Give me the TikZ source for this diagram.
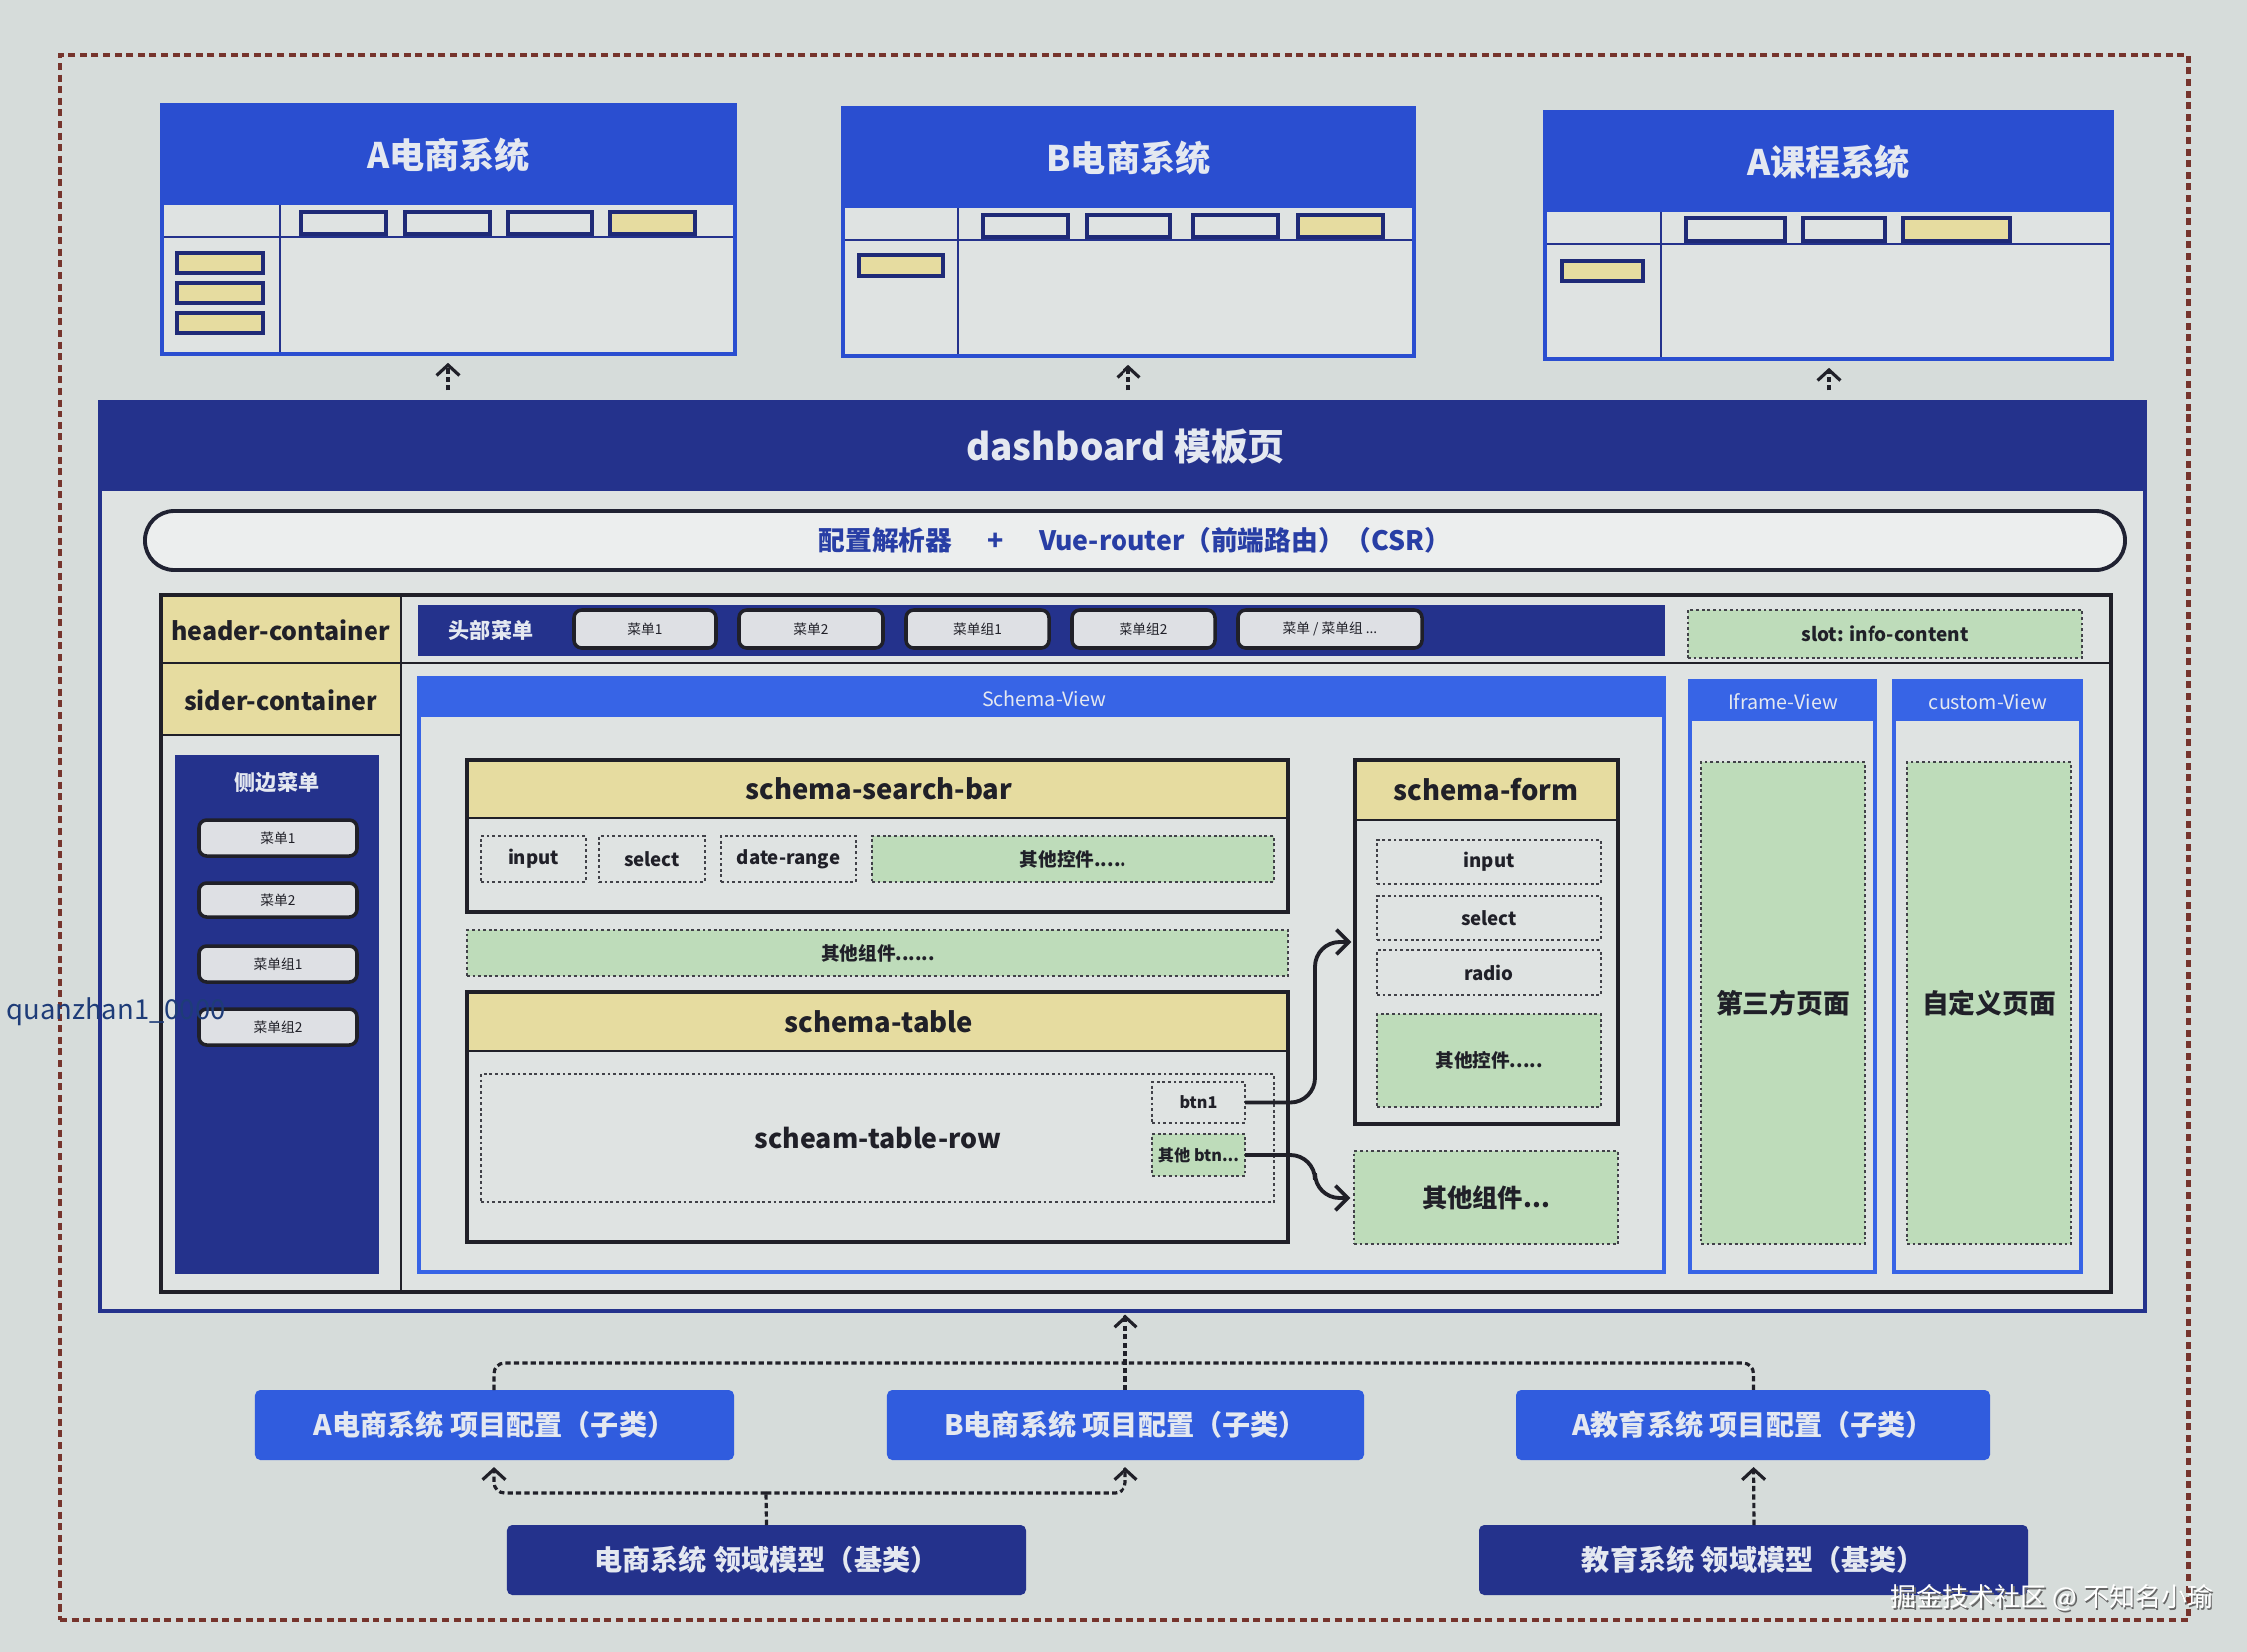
\documentclass[tikz,border=0pt]{standalone}
\usepackage{fontspec}
\setmainfont{Noto Sans CJK SC}
\usetikzlibrary{arrows.meta,calc}
\definecolor{bg}{RGB}{214,220,218}
\definecolor{panel}{RGB}{223,227,226}
\definecolor{navy}{RGB}{36,50,140}
\definecolor{winblue}{RGB}{42,78,208}
\definecolor{vblue}{RGB}{55,100,230}
\definecolor{cfgblue}{RGB}{48,92,222}
\definecolor{khaki}{RGB}{230,220,160}
\definecolor{mint}{RGB}{190,220,186}
\definecolor{ink}{RGB}{32,32,40}
\definecolor{rust}{RGB}{118,52,44}
\definecolor{btnfill}{RGB}{222,224,228}
\definecolor{wtext}{RGB}{228,232,240}
\definecolor{rtext}{RGB}{40,62,165}
\definecolor{qztext}{RGB}{30,60,120}
\newcommand{\fsz}[1]{\fontsize{#1}{#1}\selectfont}
\newcommand{\mybox}[7]{%
  \pgfmathsetmacro\mbcx{(#3+#5)/2}%
  \pgfmathsetmacro\mbcy{(#4+#6)/2}%
  \pgfmathsetmacro\mbw{(#5-#3)*0.01}%
  \pgfmathsetmacro\mbh{(#6-#4)*0.01}%
  \node[fb,#1,minimum width=\mbw cm,minimum height=\mbh cm] (#2) at (\mbcx,\mbcy) {#7};}
\begin{document}
\begin{tikzpicture}[x=0.01cm,y=-0.01cm,
  fb/.style={inner sep=0pt, outer sep=0pt},
  win/.style={draw=winblue, line width=1.1pt},
  winline/.style={draw=navy, line width=0.8pt},
  wrect/.style={draw=navy!85!black, line width=0.9pt},
  wintitle/.style={text=wtext, font=\bfseries\fsz{10}},
  dbox/.style={draw=ink!85, line width=0.5pt, dash pattern=on 0.8pt off 0.8pt, font=\bfseries\fsz{5.3}, text=ink},
  gbox/.style={dbox, fill=mint},
  ktitle/.style={font=\bfseries\fsz{7.8}, text=ink},
  hbtn/.style={fill=btnfill, draw=ink, line width=1pt, rounded corners=2.2pt, font=\fsz{3.9}, text=ink},
  cfg/.style={fill=cfgblue, rounded corners=1.5pt, text=wtext, font=\bfseries\fsz{8}},
  base/.style={fill=navy, rounded corners=1.5pt, text=wtext, font=\bfseries\fsz{8}},
  conn/.style={draw=ink, line width=1.1pt, rounded corners=7pt, -{Straight Barb[length=3.5pt,width=7pt,line width=1.1pt]}},
  dconn/.style={draw=ink, line width=0.9pt, dash pattern=on 1.5pt off 0.9pt, rounded corners=3pt},
  uparr/.style={dconn, -{Straight Barb[length=3pt,width=6.5pt,line width=0.9pt]}}
]
\fill[bg] (0,0) rectangle (2250,1654);
\useasboundingbox (0,0) rectangle (2250,1654);

% outer frame
\mybox{draw=rust, line width=1.4pt, dash pattern=on 2pt off 1.3pt}{frame}{60}{55}{2191}{1622}{}

% ---------- window A ----------
\fill[panel] (162,105) rectangle (736,354);
\fill[winblue] (162,105) rectangle (736,205);
\draw[winline] (162,237) -- (736,237) (280,205) -- (280,354);
\draw[wrect] (301,212) rectangle (387,234) (406,212) rectangle (491,234) (509,212) rectangle (593,234);
\draw[wrect, fill=khaki] (611,212) rectangle (696,234);
\draw[wrect, fill=khaki] (177,253) rectangle (263,273) (177,283) rectangle (263,303) (177,313) rectangle (263,333);
\mybox{win}{winA}{162}{105}{736}{354}{}
\node[wintitle] (winAt) at (449,155) {A电商系统};

% ---------- window B ----------
\fill[panel] (844,108) rectangle (1416,356);
\fill[winblue] (844,108) rectangle (1416,208);
\draw[winline] (844,240) -- (1416,240) (959,208) -- (959,356);
\draw[wrect] (984,215) rectangle (1069,237) (1088,215) rectangle (1172,237) (1195,215) rectangle (1280,237);
\draw[wrect, fill=khaki] (1300,215) rectangle (1385,237);
\draw[wrect, fill=khaki] (860,255) rectangle (944,276);
\mybox{win}{winB}{844}{108}{1416}{356}{}
\node[wintitle] (winBt) at (1130,158) {B电商系统};

% ---------- window C ----------
\fill[panel] (1547,112) rectangle (2115,359);
\fill[winblue] (1547,112) rectangle (2115,212);
\draw[winline] (1547,244) -- (2115,244) (1663,212) -- (1663,359);
\draw[wrect] (1688,218) rectangle (1787,241) (1805,218) rectangle (1888,241);
\draw[wrect, fill=khaki] (1906,218) rectangle (2013,241);
\draw[wrect, fill=khaki] (1564,261) rectangle (1645,281);
\mybox{win}{winC}{1547}{112}{2115}{359}{}
\node[wintitle] (winCt) at (1831,162) {A课程系统};

% ---------- dashboard ----------
\fill[panel] (100,402) rectangle (2148,1313);
\fill[navy] (100,402) rectangle (2148,492);
\mybox{draw=navy, line width=1.3pt}{dash}{100}{402}{2148}{1313}{}
\node[text=wtext, font=\bfseries\fsz{10.5}] (dasht) at (1127,448) {dashboard 模板页};

\draw[uparr, shorten <=3.3pt, shorten >=2.5pt] (winA.south |- dash.north) -- (winA.south);
\draw[uparr, shorten <=3.3pt, shorten >=2.5pt] (winB.south |- dash.north) -- (winB.south);
\draw[uparr, shorten <=3.3pt, shorten >=2.5pt] (winC.south |- dash.north) -- (winC.south);

% router capsule
\mybox{fill=panel!60!white, draw=ink!90!navy, line width=1.1pt, rounded corners=8.3pt, font=\bfseries\fsz{7.6}, text=rtext}{router}{145}{512}{2128}{571}{配置解析器\hspace{10pt}+\hspace{10pt}Vue-router（前端路由）（CSR）}

% layout container
\fill[khaki] (161,596) rectangle (402,664);
\fill[khaki] (161,664) rectangle (402,736);
\draw[ink, line width=0.8pt] (161,664) -- (2114,664) (161,736) -- (402,736) (402,596) -- (402,1294);
\mybox{draw=ink, line width=0.9pt}{layout}{161}{596}{2114}{1294}{}
\node[ktitle, font=\bfseries\fsz{7.1}] (hc) at (281,631) {header-container};
\node[ktitle, font=\bfseries\fsz{7.1}] (sc) at (281,701) {sider-container};

% side menu
\mybox{fill=navy}{side}{175}{756}{380}{1276}{}
\node[text=wtext, font=\bfseries\fsz{6}] (sidet) at (277,784) {侧边菜单};
\mybox{hbtn}{sb1}{199}{821}{357}{857}{菜单1}
\mybox{hbtn}{sb2}{199}{884}{357}{918}{菜单2}
\mybox{hbtn}{sb3}{199}{947}{357}{983}{菜单组1}
\mybox{hbtn}{sb4}{199}{1010}{357}{1046}{菜单组2}

% header bar
\mybox{fill=navy}{hbar}{419}{606}{1667}{657}{}
\node[text=wtext, font=\bfseries\fsz{6}] (hbart) at (492,631) {头部菜单};
\mybox{hbtn}{hb1}{575}{611}{717}{649}{菜单1}
\mybox{hbtn}{hb2}{740}{611}{884}{649}{菜单2}
\mybox{hbtn}{hb3}{907}{611}{1050}{649}{菜单组1}
\mybox{hbtn}{hb4}{1073}{611}{1217}{649}{菜单组2}
\mybox{hbtn}{hb5}{1240}{611}{1424}{649}{菜单 / 菜单组 ...}

\mybox{gbox, font=\bfseries\fsz{5.4}}{slot}{1690}{611}{2085}{659}{slot: info-content}

% Schema-View
\fill[panel] (420,679) rectangle (1666,1274);
\fill[vblue] (420,679) rectangle (1666,718);
\mybox{draw=vblue, line width=1.1pt}{sv}{420}{679}{1666}{1274}{}
\node[text=wtext, font=\fsz{5.6}] (svt) at (1045,700) {Schema-View};

% Iframe-View
\fill[panel] (1692,682) rectangle (1878,1274);
\fill[vblue] (1692,682) rectangle (1878,722);
\mybox{draw=vblue, line width=1.1pt}{ifv}{1692}{682}{1878}{1274}{}
\node[text=wtext, font=\fsz{5.6}] (ifvt) at (1785,703) {Iframe-View};
\mybox{gbox, font=\bfseries\fsz{7.6}}{third}{1703}{763}{1867}{1246}{第三方页面}

% custom-View
\fill[panel] (1897,682) rectangle (2084,1274);
\fill[vblue] (1897,682) rectangle (2084,722);
\mybox{draw=vblue, line width=1.1pt}{cuv}{1897}{682}{2084}{1274}{}
\node[text=wtext, font=\fsz{5.6}] (cuvt) at (1991,703) {custom-View};
\mybox{gbox, font=\bfseries\fsz{7.6}}{custom}{1910}{763}{2074}{1246}{自定义页面}

% schema-search-bar
\fill[khaki] (468,761) rectangle (1290,819);
\draw[ink, line width=0.8pt] (468,819) -- (1290,819);
\mybox{draw=ink, line width=0.9pt}{ssb}{468}{761}{1290}{913}{}
\node[ktitle] (ssbt) at (880,790) {schema-search-bar};
\mybox{dbox}{si1}{482}{837}{587}{883}{input}
\mybox{dbox}{si2}{600}{837}{706}{883}{select}
\mybox{dbox}{si3}{722}{837}{857}{883}{date-range}
\mybox{gbox}{si4}{873}{837}{1276}{883}{其他控件.....}

\mybox{gbox}{ocbar}{468}{931}{1290}{977}{其他组件......}

% schema-table
\fill[khaki] (468,993) rectangle (1290,1052);
\draw[ink, line width=0.8pt] (468,1052) -- (1290,1052);
\mybox{draw=ink, line width=0.9pt}{stab}{468}{993}{1290}{1244}{}
\node[ktitle] (stabt) at (880,1023) {schema-table};
\mybox{dbox, font=\fsz{7.6}\bfseries}{row}{482}{1075}{1276}{1203}{scheam-table-row}
\mybox{dbox, fill=panel, font=\bfseries\fsz{4.6}}{btn1}{1154}{1083}{1247}{1124}{btn1}
\mybox{gbox, font=\bfseries\fsz{4.6}}{btno}{1154}{1135}{1247}{1177}{其他 btn...}

% schema-form
\fill[khaki] (1357,761) rectangle (1620,821);
\draw[ink, line width=0.8pt] (1357,821) -- (1620,821);
\mybox{draw=ink, line width=0.9pt}{sform}{1357}{761}{1620}{1125}{}
\node[ktitle] (sformt) at (1488,791) {schema-form};
\mybox{dbox}{fi1}{1379}{841}{1603}{885}{input}
\mybox{dbox}{fi2}{1379}{897}{1603}{941}{select}
\mybox{dbox}{fi3}{1379}{951}{1603}{996}{radio}
\mybox{gbox}{fi4}{1379}{1015}{1603}{1108}{其他控件.....}

\mybox{gbox, font=\bfseries\fsz{7.2}}{ocomp}{1356}{1152}{1620}{1246}{其他组件...}

% btn connectors
\coordinate (j1) at (1317,943);
\coordinate (j2) at (1317,1199);
\draw[conn, shorten >=1pt] (btn1.east) -| (j1) -- (sform.west);
\draw[conn, shorten >=1pt] (btno.east) -| (j2) -- (ocomp.west);

% ---------- bottom ----------
\mybox{cfg}{cfgA}{255}{1392}{735}{1462}{A电商系统 项目配置（子类）}
\mybox{cfg}{cfgB}{888}{1392}{1366}{1462}{B电商系统 项目配置（子类）}
\mybox{cfg}{cfgC}{1518}{1392}{1993}{1462}{A教育系统 项目配置（子类）}
\mybox{base}{ecom}{508}{1527}{1027}{1597}{电商系统 领域模型（基类）}
\mybox{base}{edu}{1481}{1527}{2031}{1597}{教育系统 领域模型（基类）}

\coordinate (hubT) at (1127,1365);
\coordinate (hubB) at (767,1495);
\draw[dconn] (cfgA.north) |- (hubT) -| (cfgC.north);
\draw[uparr, shorten >=1pt] (cfgB.north) -- (cfgB.north |- dash.south);
\draw[dconn] (ecom.north) -- (hubB);
\draw[uparr, shorten >=2pt] (hubB) -| (cfgA.south);
\draw[uparr, shorten >=2pt] (hubB) -| (cfgB.south);
\draw[uparr, shorten >=2pt] (edu.north) -- (cfgC.south);

% overlay texts seen in the picture
\node[anchor=west, text=qztext, font=\fsz{7.8}] (qz) at (-6,1013) {quanzhan1\_0000};
\node[text=black!60, font=\fsz{7.4}] (wmsh) at (2056.5,1601.5) {掘金技术社区 @ 不知名小瑜};
\node[text=white, font=\fsz{7.4}] (wm) at (2055,1600) {掘金技术社区 @ 不知名小瑜};
\end{tikzpicture}
\end{document}
